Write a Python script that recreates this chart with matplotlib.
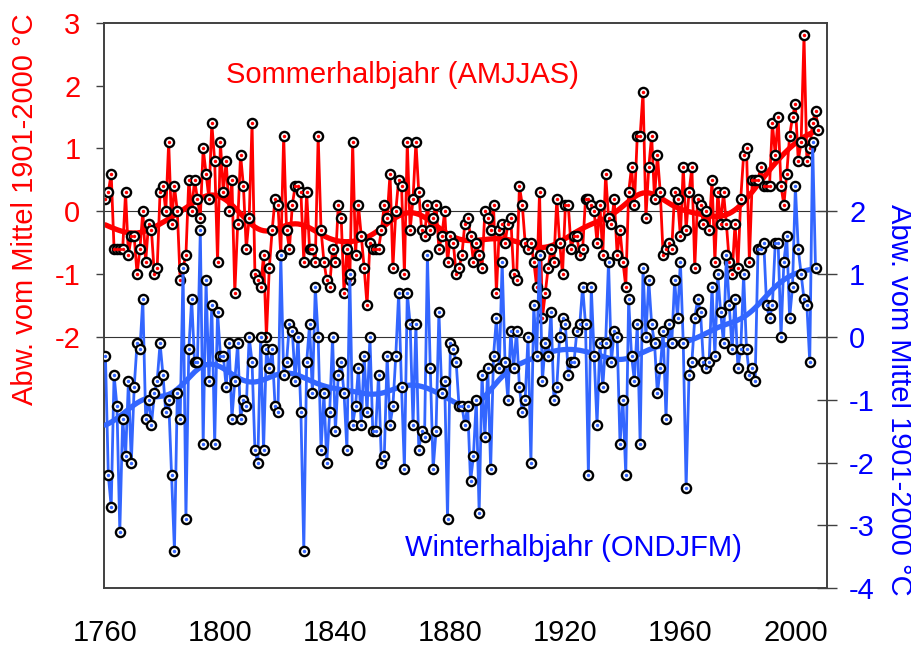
import numpy as np
import matplotlib
matplotlib.use("Agg")
import matplotlib.pyplot as plt

plt.rcParams['font.family'] = ['Liberation Sans', 'DejaVu Sans']

# Sommerhalbjahr (AMJJAS), Abweichung vom Mittel 1901-2000, 1760-2008
summer = [
    0.2, 0.3, 0.6, -0.6, -0.6, -0.6, -0.6, 0.3, -0.7, -0.4,
    -0.4, -1.0, -0.6, 0.0, -0.8, -0.2, -0.3, -1.0, -0.9, 0.3,
    0.4, 0.0, 1.1, -0.2, 0.4, 0.0, -1.1, -0.9, -0.7, 0.5,
    0.0, 0.5, 0.2, -0.1, 1.0, 0.6, 0.2, 1.4, 0.8, -0.8,
    1.1,
    0.3, 0.8, 0.0, 0.5, -1.3, -0.2, 0.9, 0.4, -0.6, -0.1,
    1.4, -1.0, -1.1, -1.2, -0.7, -2.0, -0.9, -0.3, 0.2, 0.1,
    -0.7, 1.2, -0.3, -0.6, 0.1, 0.4, 0.4, 0.3, -0.8, 0.3,
    -0.6, -0.6, -0.8, 1.2, -0.3, -0.8, -1.1, -1.2, -0.6, -0.8,
    0.1, -0.1,
    -1.3, -0.6, -1.1, 1.1, -0.7, 0.1, -0.4, -0.9, -1.5, -0.5,
    -0.6, -0.6, -0.6, -0.3, 0.1, -0.1, 0.6, -0.9, 0.0, 0.5,
    0.4, -1.0, 1.1, -0.3, 0.2, 1.1, 0.3, -0.3, -0.4, 0.1,
    -0.3, -0.1, 0.1, -0.6, -0.4, 0.0, -0.8, -0.4, -0.5, -1.0,
    -0.9,
    -0.7, -0.2, -0.1, -0.4, -0.8, -0.5, -0.7, -0.9, 0.0, -0.1,
    -0.3, 0.1, -1.3, -0.3, -0.2, -0.5, -0.2, -0.1, -1.0, -1.1,
    0.4, 0.1, -0.5, -0.6, -0.5, -0.8, -1.2, 0.3, -1.7, -1.3,
    -0.9, -0.6, -0.8, 0.2, -0.5, -1.0, 0.1, 0.1, -0.6, -0.4,
    -0.4, -0.7,
    -0.6, 0.2, 0.2, 0.1, 0.0, -0.5, 0.1, -0.7, 0.6, -0.1,
    -0.2, 0.2, -0.7, -0.3, -0.8, -1.2, 0.3, 0.7, 0.1, 1.2,
    1.2, 1.9, -0.1, 0.7, 1.2, 0.2, 0.9, 0.3, -0.7, -0.6,
    -0.5, -0.6, 0.3, 0.2, -0.4, 0.7, -0.3, 0.3, 0.7, -0.9,
    0.2, 0.1, -0.2, 0.0, -0.3, 0.5, -0.8, 0.3, -0.2, 0.3,
    -0.2, -0.8, -1.0, -0.2, -0.9, 0.2, 0.9, 1.0, -0.8, 0.5,
    0.5, 0.5, 0.7, 0.4, 0.4, 0.4, 1.4, 0.9, 1.5, 0.4,
    0.1, 0.6, 1.2, 1.5, 1.7, 0.8, 1.1, 2.8, 0.8, 1.0,
    1.4, 1.6, 1.3,
]

# Winterhalbjahr (ONDJFM), Abweichung vom Mittel 1901-2000, 1760-2007
winter = [
    -0.3, -2.2, -2.7, -0.6, -1.1, -3.1, -1.3, -1.9, -0.7, -2.0,
    -0.8, -0.1, -0.2, 0.6, -1.3, -1.0, -1.4, -0.9, -0.7, -0.1,
    -0.6, -1.2, -1.0, -2.2, -3.4, -0.9, -1.3, 1.1, -2.9, -0.2,
    0.6, -0.4, -0.4, 1.7, -1.7, 0.9, -0.7, 0.5, -1.7, 0.4,
    -0.3,
    -0.3, -0.8, -0.1, -1.3, -0.7, -0.1, -1.3, -1.0, -1.1, 0.0,
    -0.4, -1.8, -2.0, 0.0, -1.8, -0.2, -0.5, -0.2, -1.1, -1.2,
    1.3, -0.6, -0.4, 0.2, 0.1, -0.7, 0.0, -1.2, -3.4, -0.4,
    0.2, -0.9, 0.8, 0.0, -1.8, -0.9, -2.0, -1.2, 0.0, -1.5,
    -0.6, -0.4,
    -0.9, -1.8, 1.0, -1.4, -1.1, -0.5, -1.4, -0.3, -1.2, 0.0,
    -1.5, -1.5, -0.6, -2.0, -1.9, -0.3, -1.4, -1.1, -0.3, 0.7,
    -0.8, -2.1, 0.7, 0.2, -1.4, 0.2, -1.8, -1.5, -1.6, 1.3,
    -0.5, -2.1, -1.5, 0.4, -0.9, -0.7, -2.9, -0.1, -0.2, -0.4,
    -1.1,
    -1.1, -1.4, -1.1, -2.3, -1.9, -1.0, -2.8, -0.6, -1.6, -0.5,
    -2.1, -0.3, 0.3, -0.5, 1.2, -0.4, -1.0, 0.1, -0.5, 0.1,
    -0.8, -1.2, -1.0, 0.0, -2.0, 0.5, -0.3, 1.3, -0.7, -0.1,
    -0.3, 0.4, -1.0, -0.8, 0.0, 0.3, 0.2, -0.6, -0.4, -0.4,
    0.1, 0.2,
    0.8, 0.2, -2.2, 0.8, -0.3, -1.4, -0.1, -0.8, -0.1, 1.2,
    -0.4, 0.1, 0.0, -1.7, -1.0, -2.2, 0.6, -0.3, -0.7, 0.2,
    -1.7, 1.1, 0.0, 0.9, 0.2, -0.1, -0.9, -0.5, 0.1, -1.3,
    0.2, -0.1, 0.9, 0.3, 1.2, -0.1, -2.4, -0.6, -0.4, 0.3,
    0.6, 0.4, -0.4, -0.5, -0.4, 0.8, -0.3, 1.0, 0.4, -0.1,
    1.3, 0.5, -0.2, 0.6, -0.5, -0.2, 1.0, -0.2, -0.6, -0.5,
    -0.7, 1.4, 1.4, 1.5, 0.5, 0.3, 0.5, 1.5, 1.5, 0.0,
    1.2, 1.6, 0.3, 0.8, 2.4, 1.4, 1.0, 0.6, 0.5, -0.4,
    3.1, 1.1,
]

summer_years = np.arange(1760, 1760 + len(summer))
winter_years = np.arange(1760, 1760 + len(winter))
xtick_years = [1760, 1800, 1840, 1880, 1920, 1960, 2000]

RED = '#ff0000'
BLUE_LINE = '#3366ff'
BLUE_TEXT = '#0000ff'
FS = 21


def gauss_smooth(values, sigma=7.0):
    # Gauss-Tiefpass, am Rand auf die vorhandenen Gewichte normiert
    v = np.asarray(values, dtype=float)
    n = len(v)
    idx = np.arange(n)
    out = np.empty(n)
    for i in range(n):
        w = np.exp(-0.5 * ((idx - i) / sigma) ** 2)
        out[i] = np.sum(w * v) / np.sum(w)
    return out


def draw_series(axis, years, values, color):
    axis.plot(years, values, color=color, lw=2.0, zorder=3)
    axis.plot(years, gauss_smooth(values), color=color, lw=3.8, zorder=4,
              solid_capstyle='round')
    axis.plot(years, values, 'o', ms=6.6, mfc='white', mec='black',
              mew=1.7, zorder=5)
    axis.plot(years, values, 'o', ms=2.5, mfc=color, mec=color,
              mew=0, zorder=6)


fig = plt.figure(figsize=(9.12, 6.46), dpi=100)
fig.subplots_adjust(left=104 / 912, right=827 / 912,
                    bottom=1 - 588.3 / 646, top=1 - 22.7 / 646)
ax = fig.add_subplot(111)
ax2 = ax.twinx()

ax.axhline(0, color='#333333', lw=0.8, zorder=1)
ax.axhline(-2, color='#333333', lw=0.8, zorder=1)

draw_series(ax, summer_years, summer, RED)
draw_series(ax2, winter_years, winter, BLUE_LINE)

ax.set_xlim(1759.5, 2011)
ax.set_ylim(-6, 3)
ax2.set_ylim(-4, 5)

ax.set_xticks(xtick_years)
ax.set_xticklabels([str(y) for y in xtick_years])
ax.tick_params(axis='x', length=0, pad=22, labelsize=FS, labelcolor='black')

ax.set_yticks([-2, -1, 0, 1, 2, 3])
ax.set_yticklabels(['-2', '-1', '0', '1', '2', '3'])
ax.tick_params(axis='y', direction='out', length=6, width=1.0,
               color='#404040', pad=11, labelsize=FS, labelcolor=RED)

ax2.set_yticks([-4, -3, -2, -1, 0, 1, 2])
ax2.set_yticklabels(['-4', '-3', '-2', '-1', '0', '1', '2'])
ax2.tick_params(axis='y', direction='inout', length=14, width=1.0,
                color='#404040', pad=9, labelsize=FS, labelcolor=BLUE_TEXT)

for a in (ax, ax2):
    for sp in a.spines.values():
        sp.set_color('#404040')
        sp.set_linewidth(1.2)

fig.text(25 / 912, 1 - 209 / 646, 'Abw. vom Mittel 1901-2000 °C',
         rotation=90, ha='center', va='center', color=RED, fontsize=FS)
fig.text(899 / 912, 1 - 400 / 646, 'Abw. vom Mittel 1901-2000 °C',
         rotation=-90, ha='center', va='center', color=BLUE_TEXT, fontsize=FS)

fig.text(402 / 912, 1 - 75 / 646, 'Sommerhalbjahr (AMJJAS)',
         ha='center', va='center', color=RED, fontsize=FS)
fig.text(573 / 912, 1 - 548 / 646, 'Winterhalbjahr (ONDJFM)',
         ha='center', va='center', color=BLUE_TEXT, fontsize=FS)

fig.savefig('out.png', dpi=100)
